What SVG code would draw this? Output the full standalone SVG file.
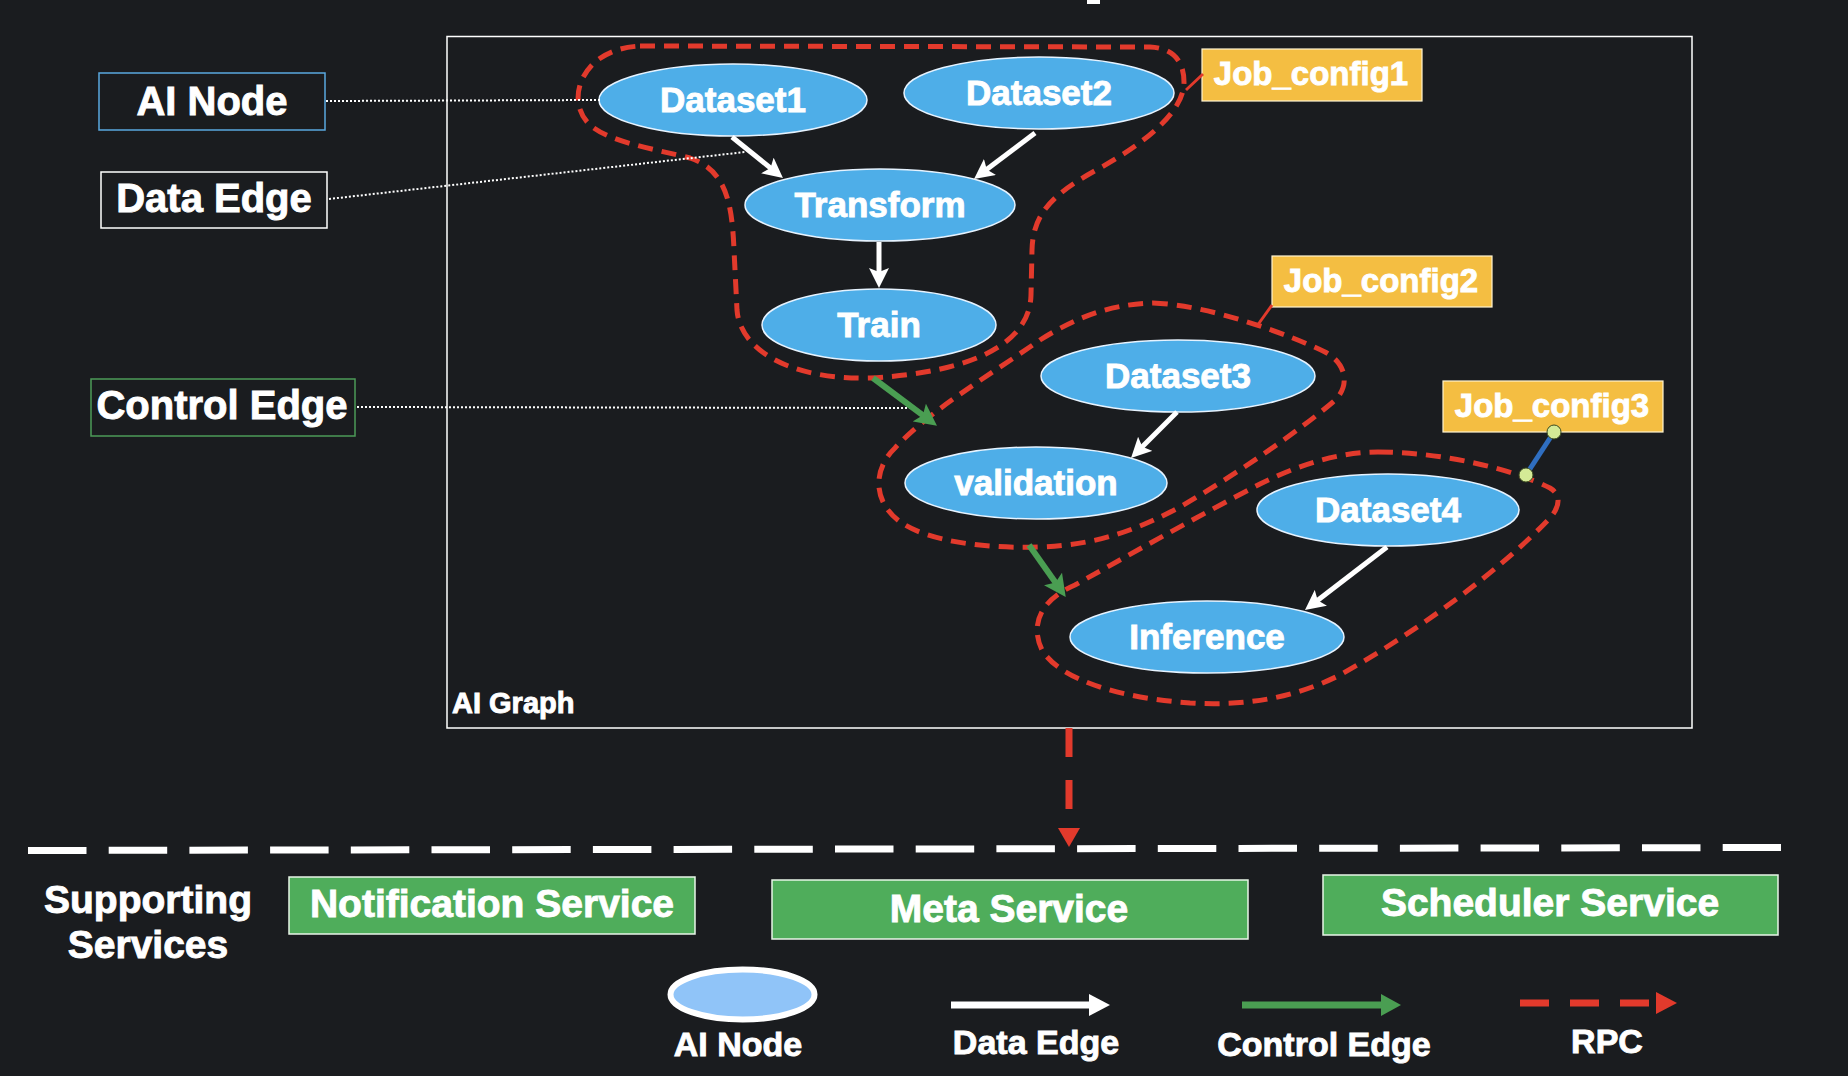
<svg xmlns="http://www.w3.org/2000/svg" width="1848" height="1076" viewBox="0 0 1848 1076">
<defs>
<style>
text{font-family:"Liberation Sans",Arial,sans-serif;font-weight:bold;fill:#ffffff;stroke:#ffffff;stroke-width:0.9}
.node ellipse{fill:#4eaee8;stroke:#e6f3ff;stroke-width:1.5}
.node text{font-size:35px;text-anchor:middle}
.legbox{fill:none;stroke-width:1.5}
.leg text{font-size:40px;text-anchor:middle}
.hull{fill:none;stroke:#e23a2c;stroke-width:5;stroke-dasharray:15 9}
.job rect{fill:#f4be42;stroke:#fff3d0;stroke-width:1.2}
.job text{font-size:33px;text-anchor:middle}
.svc rect{fill:#4fad5b;stroke:#e8f5e8;stroke-width:1.5}
.svc text{font-size:39px;text-anchor:middle}
.dot{stroke:#ffffff;stroke-width:2;stroke-dasharray:2 2;fill:none}
.data{stroke:#ffffff;stroke-width:5;fill:none;marker-end:url(#wa)}
.ctrl{stroke:#4a9e52;stroke-width:6;fill:none;marker-end:url(#ga)}
.lg text{font-size:34px;text-anchor:middle}
</style>
<marker id="wa" viewBox="0 0 20 20" markerWidth="20" markerHeight="20" markerUnits="userSpaceOnUse" refX="8" refY="10" orient="auto">
<path d="M0,0 L20,10 L0,20 L4,10 z" fill="#ffffff"/>
</marker>
<marker id="ga" viewBox="0 0 20 20" markerWidth="22" markerHeight="22" markerUnits="userSpaceOnUse" refX="8" refY="10" orient="auto">
<path d="M0,0 L20,10 L0,20 L4,10 z" fill="#4a9e52"/>
</marker>
</defs>
<rect x="0" y="0" width="1848" height="1076" fill="#1a1c1f"/>
<rect x="1087" y="0" width="13" height="4" fill="#ffffff"/>

<!-- AI Graph frame -->
<g id="ai-graph">
<rect x="447" y="36.5" width="1245" height="691.5" fill="none" stroke="#ffffff" stroke-width="1.5"/>
<text x="452" y="713" font-size="29">AI Graph</text>
</g>

<!-- Legend callouts -->
<g id="callout-ainode" class="leg">
<rect class="legbox" x="99" y="73" width="226" height="57" stroke="#5aa8e0"/>
<text x="212" y="115">AI Node</text>
</g>
<g id="callout-dataedge" class="leg">
<rect class="legbox" x="101" y="172" width="226" height="56" stroke="#ffffff"/>
<text x="214" y="212">Data Edge</text>
</g>
<g id="callout-controledge" class="leg">
<rect class="legbox" x="91" y="379" width="264" height="57" stroke="#4c9a58"/>
<text x="222" y="419">Control Edge</text>
</g>

<!-- Job config hulls -->
<g id="hull-job1">
<path class="hull" d="M 640 46 L 1150 47 C 1172 48 1184 60 1184 82 C 1184 110 1150 140 1100 168 C 1050 195 1033 215 1032 250 L 1031 295 C 1030 340 980 372 870 378 C 790 380 740 350 737 310 L 734 250 C 732 200 725 170 690 158 C 650 148 610 142 590 125 C 572 108 575 80 595 62 C 610 50 625 47 640 46 Z"/>
</g>
<g id="hull-job2">
<path class="hull" d="M 1153 303 C 1210 305 1290 335 1325 352 C 1348 364 1350 388 1333 402 C 1300 430 1240 472 1180 507 C 1140 528 1100 545 1040 547 C 980 549 930 540 905 525 C 872 505 872 470 895 448 C 930 410 990 375 1040 340 C 1075 318 1110 304 1153 303 Z"/>
</g>
<g id="hull-job3">
<path class="hull" d="M 1378 452 C 1440 452 1510 468 1550 488 C 1562 495 1560 508 1548 520 C 1500 570 1420 630 1340 675 C 1290 700 1240 706 1190 703 C 1120 698 1060 680 1042 650 C 1030 625 1040 600 1075 585 C 1120 560 1200 515 1260 484 C 1300 464 1340 452 1378 452 Z"/>
</g>

<!-- Nodes -->
<g id="dataset1" class="node"><ellipse cx="733" cy="100" rx="134" ry="36"/><text x="733" y="112">Dataset1</text></g>
<g id="dataset2" class="node"><ellipse cx="1039" cy="93" rx="135" ry="36"/><text x="1039" y="105">Dataset2</text></g>
<g id="transform" class="node"><ellipse cx="880" cy="205" rx="135" ry="36"/><text x="880" y="217">Transform</text></g>
<g id="train" class="node"><ellipse cx="879" cy="325" rx="117" ry="36"/><text x="879" y="337">Train</text></g>
<g id="dataset3" class="node"><ellipse cx="1178" cy="376" rx="137" ry="36"/><text x="1178" y="388">Dataset3</text></g>
<g id="validation" class="node"><ellipse cx="1036" cy="483" rx="131" ry="36"/><text x="1036" y="495">validation</text></g>
<g id="dataset4" class="node"><ellipse cx="1388" cy="510" rx="131" ry="36"/><text x="1388" y="522">Dataset4</text></g>
<g id="inference" class="node"><ellipse cx="1207" cy="637" rx="137" ry="36"/><text x="1207" y="649">Inference</text></g>

<!-- Job config labels -->
<g id="job-config1" class="job"><rect x="1202" y="49" width="220" height="52"/><text x="1311" y="85">Job_config1</text></g>
<g id="job-config2" class="job"><rect x="1272" y="256" width="220" height="51"/><text x="1381" y="292">Job_config2</text></g>
<g id="job-config3" class="job"><rect x="1443" y="381" width="220" height="51"/><text x="1552" y="417">Job_config3</text></g>

<!-- Services -->
<g id="supporting-services">
<text x="148" y="913" font-size="39" text-anchor="middle">Supporting</text>
<text x="148" y="958" font-size="39" text-anchor="middle">Services</text>
</g>
<g id="notification-service" class="svc"><rect x="289" y="877" width="406" height="57"/><text x="492" y="917">Notification Service</text></g>
<g id="meta-service" class="svc"><rect x="772" y="880" width="476" height="59"/><text x="1009" y="922">Meta Service</text></g>
<g id="scheduler-service" class="svc"><rect x="1323" y="875" width="455" height="60"/><text x="1550" y="916">Scheduler Service</text></g>

<!-- Connectors -->
<g id="connectors">
<line class="dot" x1="326" y1="101" x2="600" y2="100"/>
<line class="dot" x1="329" y1="199" x2="745" y2="152"/>
<line class="dot" x1="357" y1="407" x2="913" y2="408"/>
<line class="data" x1="732" y1="137" x2="773.6" y2="170.5"/>
<line class="data" x1="1035" y1="133" x2="983.6" y2="171.8"/>
<line class="data" x1="879" y1="242" x2="879" y2="276"/>
<line class="data" x1="1177" y1="412" x2="1139.5" y2="449.5"/>
<line class="data" x1="1387" y1="547" x2="1314.5" y2="602.7"/>
<line class="ctrl" x1="873" y1="378" x2="926.4" y2="417.8"/>
<line class="ctrl" x1="1029" y1="545" x2="1058.1" y2="586.2"/>
<line x1="1186" y1="90" x2="1203" y2="74" stroke="#e23a2c" stroke-width="3"/>
<line x1="1257" y1="326" x2="1272" y2="305" stroke="#e23a2c" stroke-width="3"/>
<line x1="1554" y1="432" x2="1526" y2="475" stroke="#2f6ec0" stroke-width="5"/>
<circle cx="1554" cy="432" r="7" fill="#d4ea96" stroke="#3a4a20" stroke-width="1"/>
<circle cx="1526" cy="475" r="7" fill="#d4ea96" stroke="#3a4a20" stroke-width="1"/>
<line x1="1069" y1="728" x2="1069" y2="809" stroke="#e23a2c" stroke-width="7" stroke-dasharray="29 23"/>
<polygon points="1058,828 1080,828 1069,847" fill="#e23a2c"/>
<line x1="28" y1="850.5" x2="1781" y2="847.5" stroke="#ffffff" stroke-width="7" stroke-dasharray="58.5 22.2"/>
</g>

<!-- Bottom legend -->
<g id="legend-ainode" class="lg">
<ellipse cx="742.5" cy="994.5" rx="72" ry="25" fill="#90c4f8" stroke="#ffffff" stroke-width="6"/>
<text x="738" y="1056" font-size="35">AI Node</text>
</g>
<g id="legend-dataedge" class="lg">
<line x1="951" y1="1005" x2="1090" y2="1005" stroke="#ffffff" stroke-width="7"/>
<polygon points="1089,994 1110,1005 1089,1016" fill="#ffffff"/>
<text x="1036" y="1054">Data Edge</text>
</g>
<g id="legend-controledge" class="lg">
<line x1="1242" y1="1005" x2="1382" y2="1005" stroke="#4a9e52" stroke-width="7"/>
<polygon points="1381,994 1401,1005 1381,1016" fill="#4a9e52"/>
<text x="1324" y="1056">Control Edge</text>
</g>
<g id="legend-rpc" class="lg">
<line x1="1520" y1="1003" x2="1653" y2="1003" stroke="#e23a2c" stroke-width="7" stroke-dasharray="29 21"/>
<polygon points="1656,992 1677,1003 1656,1014" fill="#e23a2c"/>
<text x="1607" y="1053">RPC</text>
</g>
</svg>
